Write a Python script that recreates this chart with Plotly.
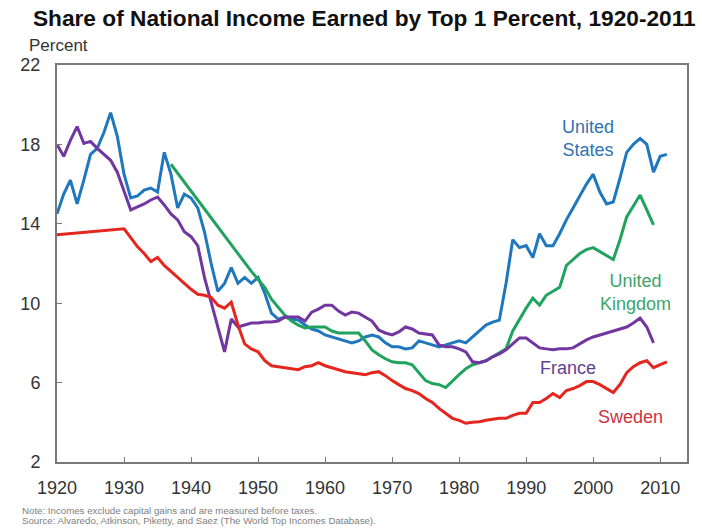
import plotly.graph_objects as go

# Top 1% income share (percent of national income), by country
us_years = list(range(1920, 2012))
us_share = [14.5, 15.5, 16.2, 15.0, 16.2, 17.5, 17.8, 18.6, 19.6, 18.4,
            16.5, 15.3, 15.4, 15.7, 15.8, 15.6, 17.6, 16.5, 14.8, 15.5,
            15.3, 14.8, 13.6, 12.0, 10.6, 11.0, 11.8, 11.0, 11.3, 11.0,
            11.3, 10.5, 9.5, 9.2, 9.3, 9.2, 9.15, 8.9, 8.7, 8.6,
            8.4, 8.3, 8.2, 8.1, 8.0, 8.1, 8.3, 8.4, 8.3, 8.0,
            7.8, 7.8, 7.7, 7.75, 8.1, 8.0, 7.9, 7.8, 7.9, 8.0,
            8.1, 8.0, 8.3, 8.6, 8.9, 9.05, 9.15, 11.0, 13.2, 12.8,
            12.9, 12.3, 13.5, 12.9, 12.9, 13.5, 14.2, 14.8, 15.4, 16.0,
            16.5, 15.6, 15.0, 15.1, 16.3, 17.6, 18.0, 18.3, 18.0, 16.6,
            17.4, 17.5]

uk_years = [1937, 1949] + list(range(1951, 2010))
uk_share = [17.0, 11.6,
            10.8, 10.2, 9.8, 9.4, 9.1, 8.9, 8.75, 8.8, 8.8,
            8.8, 8.6, 8.5, 8.5, 8.5, 8.5, 8.1, 7.65, 7.4, 7.2,
            7.05, 7.0, 7.0, 6.9, 6.5, 6.1, 5.95, 5.9, 5.75, 6.1,
            6.4, 6.7, 6.9, 7.0, 7.1, 7.3, 7.5, 7.7, 8.6, 9.2,
            9.75, 10.25, 9.9, 10.4, 10.6, 10.8, 11.9, 12.2, 12.5, 12.7,
            12.8, 12.6, 12.4, 12.2, 13.2, 14.35, 14.9, 15.45, 14.7, 13.95]

fr_years = list(range(1920, 2010))
fr_share = [18.0, 17.4, 18.2, 18.9, 18.05, 18.15, 17.8, 17.5, 17.2, 16.6,
            15.7, 14.7, 14.85, 15.0, 15.2, 15.35, 14.95, 14.5, 14.2, 13.6,
            13.35, 12.9, 11.3, 10.0, 8.7, 7.55, 9.2, 8.8, 8.9, 9.0,
            9.0, 9.05, 9.05, 9.1, 9.3, 9.3, 9.3, 9.1, 9.55, 9.7,
            9.9, 9.9, 9.6, 9.4, 9.55, 9.5, 9.3, 9.1, 8.65, 8.5,
            8.4, 8.55, 8.8, 8.7, 8.5, 8.45, 8.4, 7.9, 7.8, 7.8,
            7.7, 7.55, 7.05, 7.0, 7.1, 7.3, 7.45, 7.65, 7.95, 8.25,
            8.25, 8.0, 7.75, 7.7, 7.65, 7.7, 7.7, 7.75, 7.95, 8.15,
            8.3, 8.4, 8.5, 8.6, 8.7, 8.8, 9.0, 9.25, 8.8, 8.0]

se_years = [1920] + list(range(1930, 2012))
se_share = [13.45,
            13.75, 13.3, 12.85, 12.5, 12.1, 12.3, 11.9, 11.6, 11.3, 11.0,
            10.7, 10.45, 10.4, 10.3, 9.9, 9.75, 10.05, 8.9, 7.95, 7.7,
            7.55, 7.1, 6.85, 6.8, 6.75, 6.7, 6.65, 6.8, 6.85, 7.0,
            6.85, 6.75, 6.65, 6.55, 6.5, 6.45, 6.4, 6.5, 6.55, 6.35,
            6.1, 5.9, 5.7, 5.6, 5.45, 5.2, 5.0, 4.7, 4.45, 4.2,
            4.1, 3.95, 4.0, 4.03, 4.1, 4.15, 4.2, 4.2, 4.35, 4.45,
            4.45, 5.0, 5.0, 5.2, 5.45, 5.25, 5.6, 5.7, 5.85, 6.05,
            6.05, 5.9, 5.7, 5.5, 5.9, 6.5, 6.8, 7.0, 7.1, 6.75,
            6.9, 7.05]

y_ticks = [2, 6, 10, 14, 18, 22]
x_ticks = [1920, 1930, 1940, 1950, 1960, 1970, 1980, 1990, 2000, 2010]

FONT = "Arial, Liberation Sans, sans-serif"

series = [
    ("United States", us_years, us_share, "#1f78bd"),
    ("United Kingdom", uk_years, uk_share, "#20a35c"),
    ("France", fr_years, fr_share, "#7236a0"),
    ("Sweden", se_years, se_share, "#e4261f"),
]

fig = go.Figure()
for name, xs, ys, color in series:
    fig.add_trace(go.Scatter(x=xs, y=ys, mode="lines", name=name,
                             line=dict(color=color, width=3)))

# Direct labels next to the lines
labels = [
    ("United<br>States", 1999.2, 18.3, "#2f73b2"),
    ("United<br>Kingdom", 2006.3, 10.55, "#3da46c"),
    ("France", 1996.2, 6.75, "#5f3f8f"),
    ("Sweden", 2005.5, 4.25, "#cc3340"),
]
for text, x, y, color in labels:
    fig.add_annotation(x=x, y=y, text=text, showarrow=False,
                       font=dict(family=FONT, size=18, color=color),
                       xanchor="center", yanchor="middle", align="center")

fig.add_annotation(xref="paper", yref="paper", x=-0.047, y=1.05,
                   text="Percent", showarrow=False, xanchor="left",
                   yanchor="middle", font=dict(family=FONT, size=17, color="#333"))

fig.add_annotation(xref="paper", yref="paper", x=-0.059, y=-0.121,
                   text="Note: Incomes exclude capital gains and are measured before taxes.",
                   showarrow=False, xanchor="left", yanchor="middle",
                   font=dict(family=FONT, size=9.7, color="#808080"))
fig.add_annotation(xref="paper", yref="paper", x=-0.059, y=-0.147,
                   text="Source: Alvaredo, Atkinson, Piketty, and Saez (The World Top Incomes Database).",
                   showarrow=False, xanchor="left", yanchor="middle",
                   font=dict(family=FONT, size=9.7, color="#808080"))

axis_common = dict(showline=True, mirror=True, linecolor="#7a7a7a", linewidth=2,
                   ticks="inside", ticklen=5, tickcolor="#7a7a7a", tickwidth=1,
                   showgrid=False, zeroline=False,
                   tickfont=dict(family=FONT, size=18, color="#333"))

fig.update_layout(
    width=702, height=531,
    margin=dict(l=57, r=15, t=65, b=69),
    paper_bgcolor="white", plot_bgcolor="white",
    showlegend=False,
    title=dict(text="<b>Share of National Income Earned by Top 1 Percent, 1920-2011</b>",
               x=0.519, xanchor="center", y=0.966, yanchor="middle",
               xref="container", yref="container",
               font=dict(family=FONT, size=22.7, color="#111")),
    xaxis=dict(range=[1920, 2014], tickvals=x_ticks, ticklabelstandoff=8, **axis_common),
    yaxis=dict(range=[2, 22], tickvals=y_ticks, ticklabelstandoff=11, **axis_common),
)

fig.write_html("out.html")
